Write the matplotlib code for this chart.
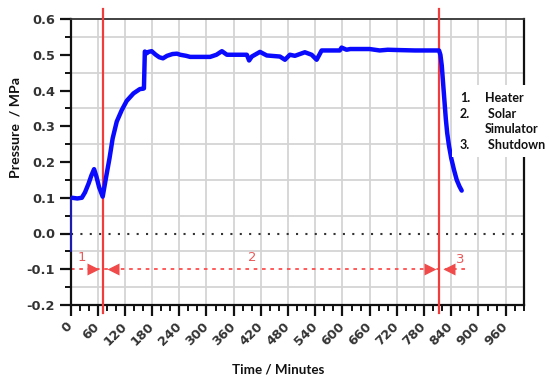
import matplotlib
matplotlib.use("Agg")
import matplotlib.pyplot as plt
from matplotlib.patches import Rectangle

# ---- data ----
time_min = [0, 3, 15, 25, 32, 40, 46, 52, 57, 63, 71, 78, 86, 93, 102, 113, 124, 139,
            153, 160, 162,
            164, 168, 172, 179, 188, 196, 204, 213, 225, 235, 242, 255, 264, 290, 308,
            322, 334, 345, 389, 394, 400, 418, 433, 462, 473, 484, 495, 517, 532, 543,
            554, 594, 598, 609, 617, 660, 682, 700, 727, 760, 800, 813, 816, 819, 822,
            825, 828, 831, 835, 840, 846, 852, 858, 863]
pressure = [0.100, 0.100, 0.098, 0.100, 0.115, 0.140, 0.162, 0.180, 0.160, 0.130, 0.103,
            0.154, 0.210, 0.266, 0.313, 0.345, 0.371, 0.392, 0.404, 0.405, 0.406,
            0.509, 0.504, 0.508, 0.510, 0.500, 0.493, 0.490, 0.497, 0.502, 0.503, 0.500,
            0.497, 0.494, 0.494, 0.494, 0.500, 0.510, 0.500, 0.500, 0.484, 0.495, 0.508,
            0.498, 0.495, 0.486, 0.500, 0.497, 0.507, 0.500, 0.486, 0.512, 0.512, 0.520,
            0.514, 0.516, 0.516, 0.512, 0.514, 0.513, 0.512, 0.512, 0.512, 0.500, 0.470,
            0.420, 0.370, 0.320, 0.281, 0.245, 0.210, 0.178, 0.150, 0.132, 0.120]
start_time = [0, 0]
start_pressure = [-0.05, 0.10]

phase_bounds = [72, 814]          # red vertical lines (min)
phase_line_span = [0, 875]         # red dotted line extent
phase_level = -0.1
phase_labels = ["1", "2", "3"]
phase_label_x = [25, 400, 859]
phase_label_y = [-0.066, -0.068, -0.073]

xticks = list(range(0, 961, 60))
xticklabels = [str(v) for v in xticks]
yticks = [-0.2, -0.1, 0.0, 0.1, 0.2, 0.3, 0.4, 0.5, 0.6]
yticklabels = ["-0.2", "-0.1", "0.0", "0.1", "0.2", "0.3", "0.4", "0.5", "0.6"]

legend_nums = ["1.", "2.", "", "3."]
legend_words = ["Heater", " Solar", "Simulator", " Shutdown"]

# ---- figure ----
W, H = 550, 385
fig = plt.figure(figsize=(W / 100, H / 100), dpi=100)
ax = fig.add_axes([70.5 / W, 1 - 305 / H, (523.8 - 70.5) / W, (305 - 19) / H])

ax.set_xlim(0, 1000)
ax.set_ylim(-0.2, 0.6)

# grid: vertical at major x, horizontal at minor y
ax.set_xticks(xticks)
ax.set_xticks(list(range(0, 1001, 20)), minor=True)
ax.set_yticks(yticks)
ax.set_yticks([-0.15, -0.05, 0.05, 0.15, 0.25, 0.35, 0.45, 0.55], minor=True)
ax.grid(True, which="major", axis="x", color="#d4d4d4", lw=1.3, zorder=0)
ax.grid(True, which="minor", axis="y", color="#d4d4d4", lw=1.3, zorder=0)
ax.set_axisbelow(True)

tick_font = dict(family="DejaVu Sans", weight="bold", size=9.3)
ax.set_xticklabels(xticklabels, rotation=45, ha="right", va="center",
                   rotation_mode="anchor", color="#333333", **tick_font)
ax.set_yticklabels(yticklabels, color="#333333", **tick_font)

ax.tick_params(which="major", direction="out", length=8, width=1.6, color="#111111")
ax.tick_params(which="minor", direction="out", length=4, width=1.4, color="#111111")
ax.tick_params(axis="x", which="major", pad=6)
ax.tick_params(axis="y", which="major", pad=3)

for s in ["left", "bottom", "right"]:
    ax.spines[s].set_linewidth(1.6)
    ax.spines[s].set_color("#111111")
ax.spines["top"].set_linewidth(1.3)
ax.spines["top"].set_color("#333333")

# zero dotted line
ax.axhline(0, color="#333333", lw=1.5, ls=(0, (1, 3.5)), zorder=2)

# phase dotted line
ax.plot(phase_line_span, [phase_level, phase_level], color="#ff4d4d", lw=1.3,
        ls=(0, (2, 2.6)), zorder=2)

# red vertical lines
for xb in phase_bounds:
    ax.plot([xb, xb], [-0.222, 0.628], color="#f03c3c", lw=1.6, zorder=4, clip_on=False)
    ax.plot([xb - 22], [phase_level], marker=">", ms=8, color="#f04a4a", mec="none", zorder=4)
    ax.plot([xb + 21], [phase_level], marker="<", ms=8, color="#f04a4a", mec="none", zorder=4)

for lab, lx, ly in zip(phase_labels, phase_label_x, phase_label_y):
    ax.text(lx, ly, lab, color="#ea5a5a", fontsize=9.5, ha="center", va="center",
            family="DejaVu Sans")

# data
ax.plot(start_time, start_pressure, color="#1f1fd0", lw=1.2, zorder=5, clip_on=False)
ax.plot(time_min, pressure, color="#0a0aff", lw=3.2, zorder=5,
        solid_joinstyle="round", solid_capstyle="round")

# axis labels
lab_font = dict(family="Lato", weight="bold", size=9.6, color="#111111")
fig.text(278 / W, 1 - 370 / H, "Time / Minutes", ha="center", va="center", **lab_font)
fig.text(16 / W, 1 - 128 / H, "Pressure  / MPa", ha="center", va="center",
         rotation=90, **dict(lab_font, size=10.2))

# legend box
rect = Rectangle((452 / W, 1 - 157 / H), (W - 452) / W, 72 / H, transform=fig.transFigure,
                 facecolor="white", edgecolor="none", zorder=10)
fig.add_artist(rect)
leg_font = dict(family="Lato", weight="bold", size=9.0, color="#111111", zorder=11)
ys = [97.5, 113.5, 129, 145]
for num, word, yy in zip(legend_nums, legend_words, ys):
    if num:
        fig.text(460 / W, 1 - yy / H, num, ha="left", va="center", **leg_font)
    fig.text(485 / W, 1 - yy / H, word, ha="left", va="center", **leg_font)

fig.savefig("out.png", dpi=100)
